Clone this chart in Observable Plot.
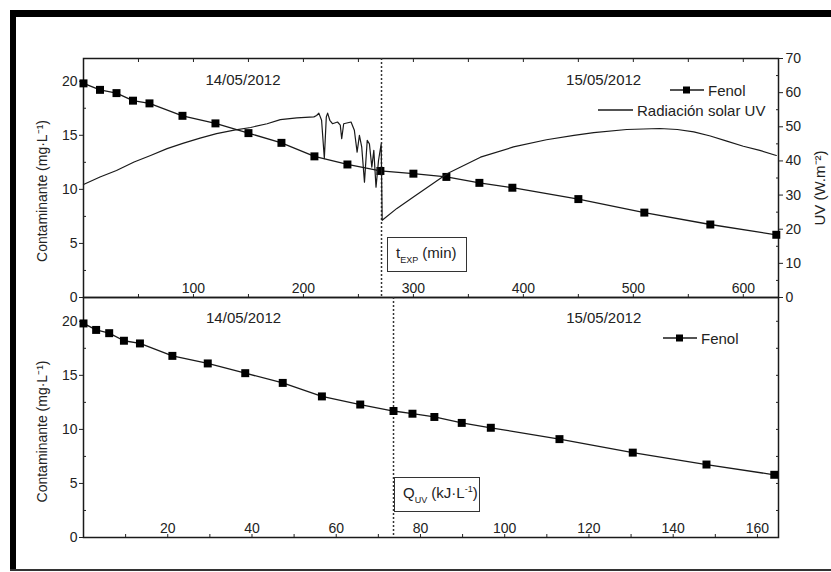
<!DOCTYPE html>
<html><head><meta charset="utf-8">
<script src="https://cdn.jsdelivr.net/npm/d3@7"></script>
<script src="https://cdn.jsdelivr.net/npm/@observablehq/plot@0.6"></script>
<style>
html,body{margin:0;background:#fff;overflow:hidden;width:831px;height:572px;}
#wrap{position:relative;width:831px;height:572px;overflow:hidden;background:#fff;font-family:"Liberation Sans",Arial,sans-serif;color:#222;}
.band{position:absolute;background:#000;}
.layer{position:absolute;left:0;}
.layer svg{overflow:visible;background:transparent;}
.box{position:absolute;border:1.5px solid #333;box-sizing:border-box;font-size:15px;display:flex;align-items:center;padding-left:8px;background:transparent;white-space:nowrap;}
.box sub{font-size:9px;vertical-align:-5px;}
.box sup{font-size:9px;vertical-align:6px;}
.leg{position:absolute;display:flex;align-items:center;font-size:15px;height:18px;white-space:nowrap;}
.leg svg{margin-right:4px;}
</style></head>
<body><div id="wrap">
<div class="band" style="left:10px;top:10px;width:821px;height:7px"></div>
<div class="band" style="left:10px;top:10px;width:6px;height:561px"></div>
<div class="band" style="left:10px;top:569px;width:821px;height:2px;background:#333"></div>
<div id="top" class="layer" style="top:0"></div>
<div id="uv" class="layer" style="top:0"></div>
<div id="bot" class="layer" style="top:290px"></div>
</div>
<script>
// ---- data ----
const tExp = [0,15,30,45,60,90,120,150,180,210,240,270,300,330,360,390,450,510,570,630];
const qUV  = [0,3,6.1,9.6,13.4,21.1,29.5,38.4,47.3,56.6,65.7,73.6,78.1,83.3,89.8,96.7,113,130.4,147.9,164];
const fenol = [19.8,19.2,18.9,18.2,17.95,16.8,16.1,15.2,14.3,13.05,12.3,11.7,11.45,11.15,10.6,10.15,9.1,7.85,6.75,5.8];

const uvTime  = [0,15,30,46,61,76,91,106,121,137,152,167,179,194,209.5,212,214,216.5,219,220.8,222,224,226.4,231,233.5,234.8,236.6,243.3,246.3,248.8,250.9,253,255.5,258,260,262.2,264,266,268.3,270.7,271.6,285,300,331,361,391,421,446,464,494,524,540,555,570,585,600,615,630];
const uvValue = [33.1,35.3,37.2,39.7,41.6,43.6,45.2,46.7,48.0,49.0,49.8,50.9,52.1,52.6,52.9,53.3,54.0,51.9,40.7,52.9,54.0,51.9,50.9,51.4,50.5,46.5,50.9,51.4,49.0,42.6,47.5,44.1,33.8,46.0,45.0,38.2,43.1,32.3,40.2,45.0,22.6,26.1,29.4,36.3,41.1,44.1,46.2,47.5,48.3,49.2,49.5,49.2,48.5,47.3,45.8,44.3,43.1,41.6];

const contTicks = [0,5,10,15,20];
const contMinor = [2.5,7.5,12.5,17.5];
const uvTicks = [0,10,20,30,40,50,60,70];
const uvMinor = [5,15,25,35,45,55,65];
const tTicks = [100,200,300,400,500,600];
const tMinor = [50,100,150,200,250,300,350,400,450,500,550,600];
const qTicks = [20,40,60,80,100,120,140,160];
const qMinor = [10,20,30,40,50,60,70,80,90,100,110,120,130,140,150,160];

const dayBreakT = 271;
const dayBreakQ = 73.6;
const datesTop = [{x:145, label:"14/05/2012"},{x:473, label:"15/05/2012"}];
const datesBot = [{x:38, label:"14/05/2012"},{x:123.5, label:"15/05/2012"}];
const yLabel = "Contaminante (mg·L⁻¹)";
const uvLabel = "UV (W.m⁻²)";

// ---- build ----
const fenolTop = tExp.map((t,i)=>({x:t, c:fenol[i]}));
const fenolBot = qUV.map((q,i)=>({x:q, c:fenol[i]}));
const uvData = uvTime.map((t,i)=>({t, uv:uvValue[i]}));

const ink = "#1a1a1a";
const common = {
  width: 831, marginLeft: 83, marginRight: 53,
  style: {fontFamily: '"Liberation Sans", Arial, sans-serif', fontSize: "14px", color: "#222", background: "transparent", overflow: "visible"}
};

const topPlot = Plot.plot({
  ...common, height: 300, marginTop: 58, marginBottom: 3,
  x: {domain: [0, 632]}, y: {domain: [0, 22.1]},
  marks: [
    Plot.frame({stroke: ink, strokeWidth: 1.5}),
    Plot.axisY(contTicks, {anchor: "left", tickSize: 4, tickPadding: 2, fontSize: 14, label: null}),
    Plot.axisY(contMinor, {anchor: "left", tickSize: -3, tickFormat: () => "", label: null}),
    Plot.axisX(tMinor, {anchor: "bottom", tickSize: -3, tickFormat: () => "", label: null}),
    Plot.axisX(tMinor, {anchor: "top", tickSize: -3, tickFormat: () => "", label: null}),
    Plot.text(tTicks, {x: d => d, text: d => String(d), frameAnchor: "bottom", lineAnchor: "bottom", dy: -5, fontSize: 14, fill: "#222"}),
    Plot.ruleX([dayBreakT], {stroke: "#333", strokeWidth: 1.5, strokeDasharray: "2,2"}),
    Plot.line(fenolTop, {x: "x", y: "c", stroke: ink, strokeWidth: 1.3}),
    Plot.dot(fenolTop, {x: "x", y: "c", symbol: "square", fill: "#000", r: 4.5}),
    Plot.text(datesTop, {x: "x", text: "label", frameAnchor: "top", dy: 16, fontSize: 15, fill: "#222"}),
    Plot.text([yLabel], {frameAnchor: "left", textAnchor: "middle", rotate: -90, dx: -41, dy: 13, fontSize: 14, fill: "#222"})
  ]
});
document.getElementById("top").append(topPlot);

const uvPlot = Plot.plot({
  ...common, height: 300, marginTop: 58, marginBottom: 3,
  x: {domain: [0, 632], axis: null}, y: {domain: [0, 70]},
  marks: [
    Plot.axisY(uvTicks, {anchor: "right", tickSize: 4, tickPadding: 3, fontSize: 14, label: null}),
    Plot.axisY(uvMinor, {anchor: "right", tickSize: -3, tickFormat: () => "", label: null}),
    Plot.line(uvData, {x: "t", y: "uv", stroke: ink, strokeWidth: 1.2}),
    Plot.text([uvLabel], {frameAnchor: "right", textAnchor: "middle", rotate: -90, dx: 42, dy: 10, fontSize: 15, fill: "#222"})
  ]
});
document.getElementById("uv").append(uvPlot);

const botPlot = Plot.plot({
  ...common, height: 282, marginTop: 7, marginBottom: 35,
  x: {domain: [0, 165]}, y: {domain: [0, 22.2]},
  marks: [
    Plot.frame({stroke: ink, strokeWidth: 1.5}),
    Plot.axisY(contTicks, {anchor: "left", tickSize: 4, tickPadding: 2, fontSize: 14, label: null}),
    Plot.axisY(contMinor, {anchor: "left", tickSize: -3, tickFormat: () => "", label: null}),
    Plot.axisY(contTicks.concat(contMinor), {anchor: "right", tickSize: -3, tickFormat: () => "", label: null}),
    Plot.axisX(qMinor, {anchor: "bottom", tickSize: -3, tickFormat: () => "", label: null}),
    Plot.text(qTicks, {x: d => d, text: d => String(d), frameAnchor: "bottom", lineAnchor: "bottom", dy: -5, fontSize: 14, fill: "#222"}),
    Plot.ruleX([dayBreakQ], {stroke: "#333", strokeWidth: 1.5, strokeDasharray: "2,2"}),
    Plot.line(fenolBot, {x: "x", y: "c", stroke: ink, strokeWidth: 1.3}),
    Plot.dot(fenolBot, {x: "x", y: "c", symbol: "square", fill: "#000", r: 4.5}),
    Plot.text(datesBot, {x: "x", text: "label", frameAnchor: "top", dy: 15, fontSize: 15, fill: "#222"}),
    Plot.text([yLabel], {frameAnchor: "left", textAnchor: "middle", rotate: -90, dx: -41, dy: 14, fontSize: 14, fill: "#222"})
  ]
});
document.getElementById("bot").append(botPlot);

// ---- legends and axis-title boxes ----
const wrap = document.getElementById("wrap");
function legendFenol(left, top) {
  const d = document.createElement("div");
  d.className = "leg";
  d.style.left = left + "px"; d.style.top = top + "px";
  d.innerHTML = '<svg width="34" height="10"><line x1="0" y1="5" x2="34" y2="5" stroke="#1a1a1a" stroke-width="1.3"/><rect x="13" y="1.5" width="7" height="7" fill="#000"/></svg><span>Fenol</span>';
  wrap.append(d);
}
function legendUV(left, top) {
  const d = document.createElement("div");
  d.className = "leg";
  d.style.left = left + "px"; d.style.top = top + "px";
  d.innerHTML = '<svg width="35" height="10"><line x1="0" y1="5" x2="35" y2="5" stroke="#1a1a1a" stroke-width="1.3"/></svg><span>Radiación solar UV</span>';
  wrap.append(d);
}
legendFenol(670, 81);
legendUV(598, 101);
legendFenol(663, 329);

function box(left, top, w, h, html) {
  const d = document.createElement("div");
  d.className = "box";
  Object.assign(d.style, {left: left + "px", top: top + "px", width: w + "px", height: h + "px"});
  d.innerHTML = html;
  wrap.append(d);
}
box(387, 237, 80, 35, '<span>t<sub>EXP</sub> (min)</span>');
box(394, 477, 86, 35, '<span>Q<sub>UV</sub> (kJ·L<sup>-1</sup>)</span>');
</script>
</body></html>
